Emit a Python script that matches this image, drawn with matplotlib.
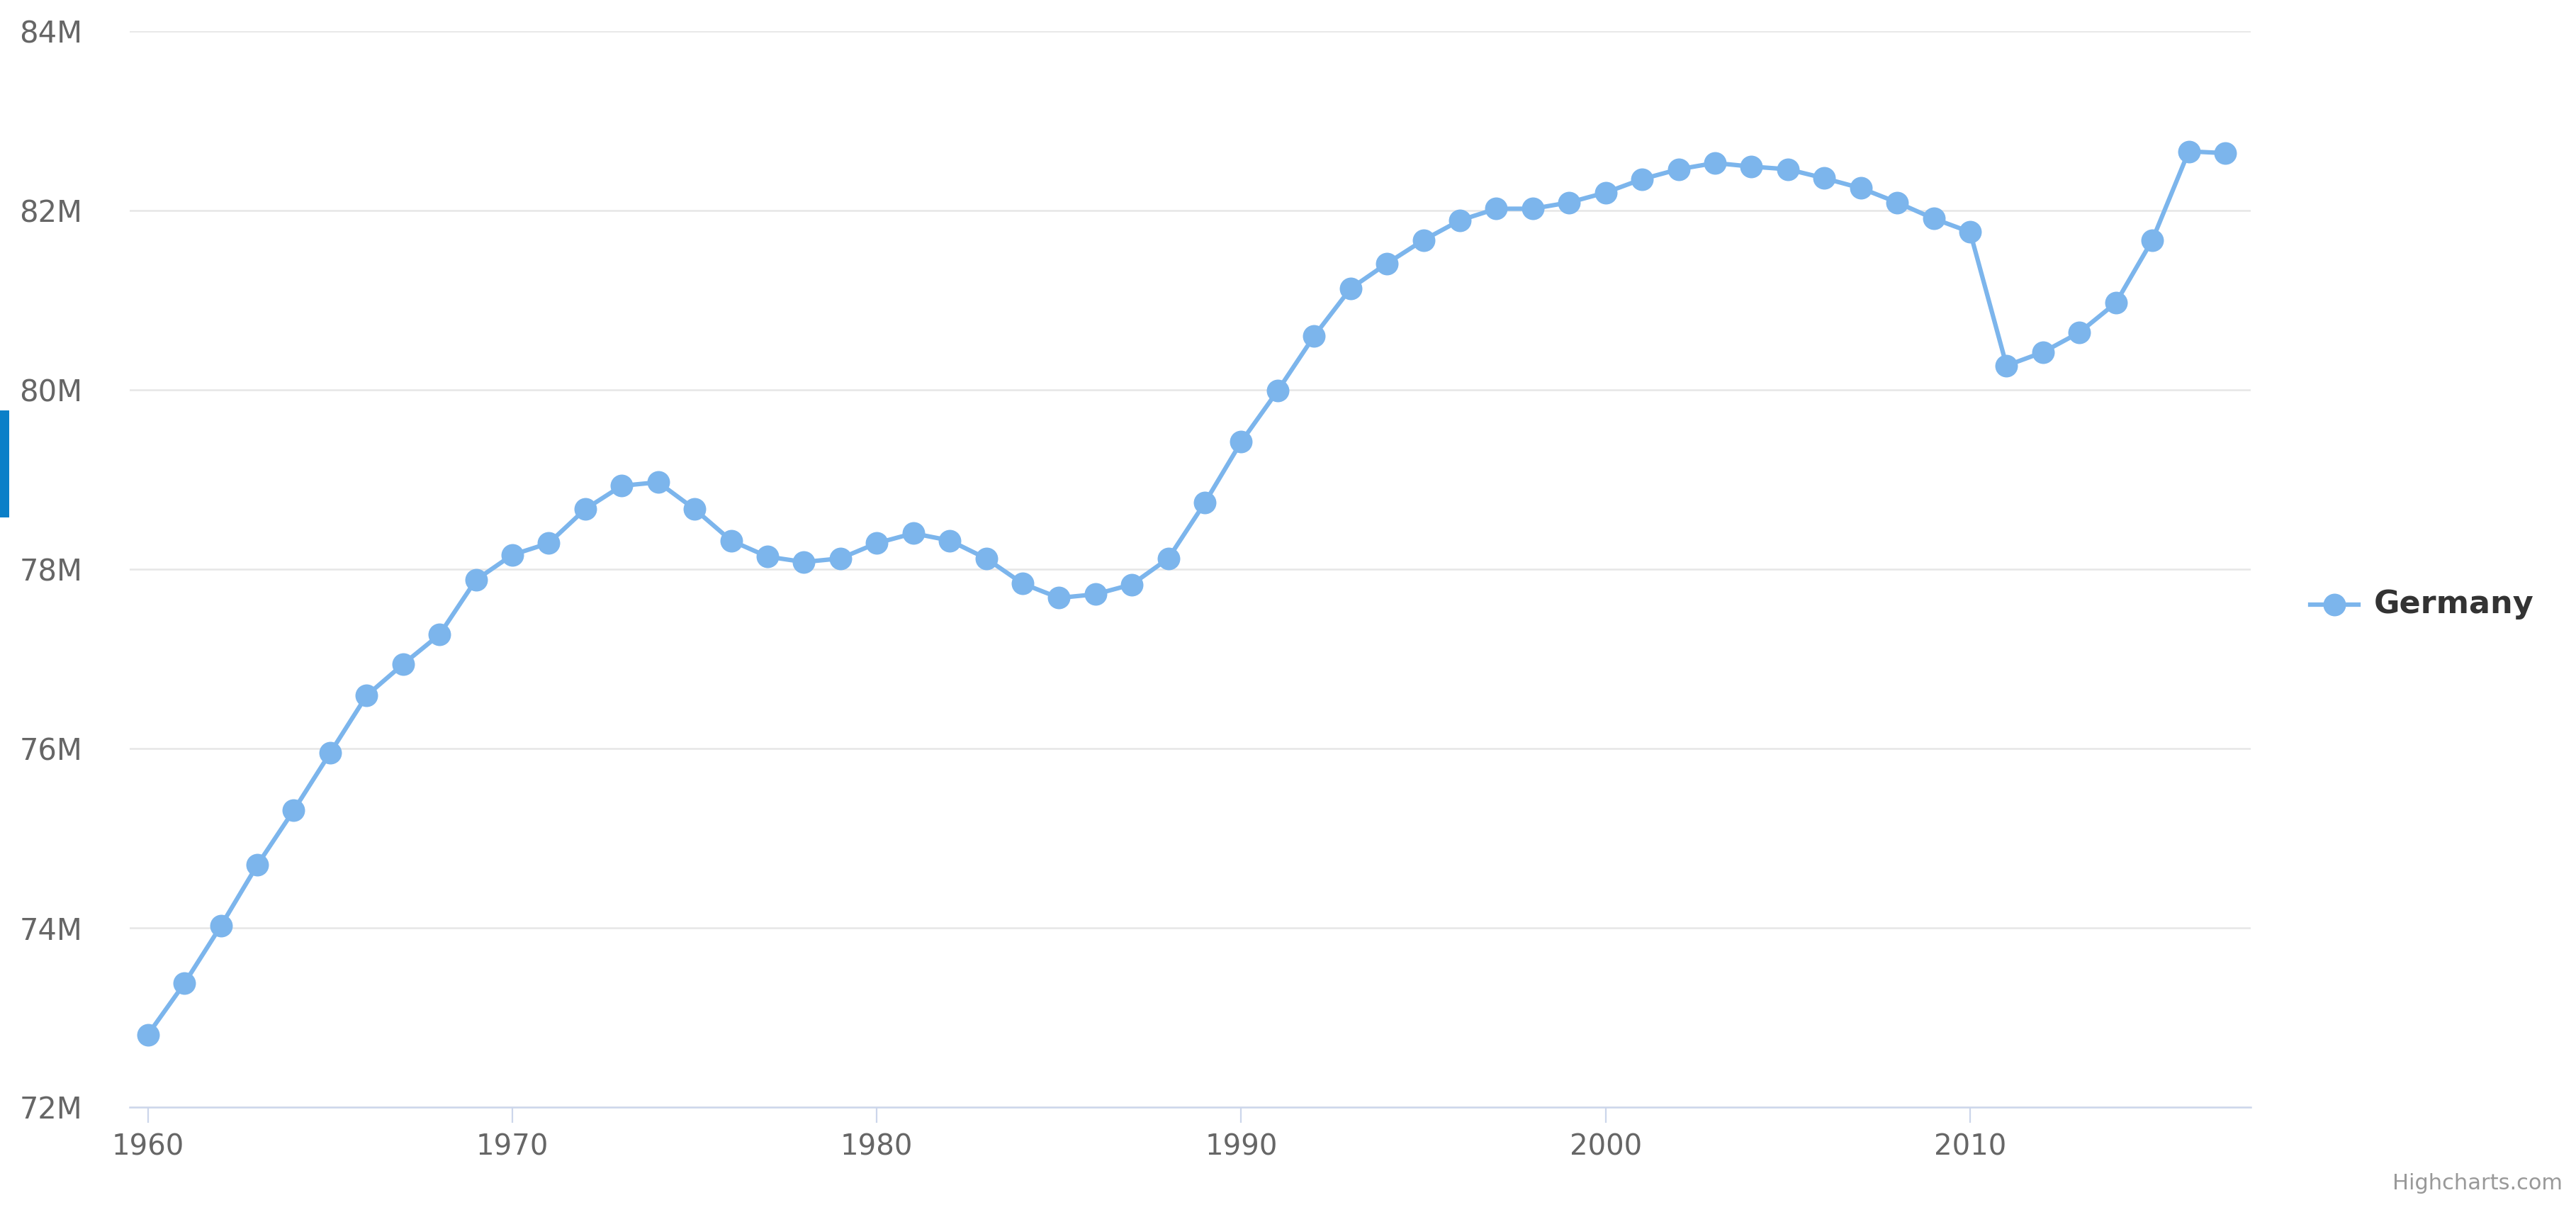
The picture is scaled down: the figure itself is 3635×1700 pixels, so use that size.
import matplotlib
matplotlib.use("Agg")
import matplotlib.pyplot as plt
from matplotlib.ticker import FuncFormatter, MultipleLocator
from matplotlib.patches import Rectangle
from matplotlib.lines import Line2D

# Germany population, millions
years = list(range(1960, 2018))
population = [
    72.81, 73.38, 74.02, 74.70, 75.31, 75.95, 76.59, 76.94, 77.27, 77.88,
    78.16, 78.29, 78.67, 78.93, 78.97, 78.67, 78.32, 78.14, 78.08, 78.12,
    78.29, 78.40, 78.32, 78.12, 77.84, 77.68, 77.72, 77.83, 78.12, 78.74,
    79.42, 79.99, 80.60, 81.13, 81.41, 81.67, 81.89, 82.02, 82.02, 82.09,
    82.20, 82.35, 82.46, 82.53, 82.49, 82.46, 82.36, 82.25, 82.09, 81.91,
    81.76, 80.27, 80.42, 80.64, 80.97, 81.67, 82.66, 82.64,
]
series_name = "Germany"
x_ticks = [1960, 1970, 1980, 1990, 2000, 2010]

blue = "#7cb5ec"
lw, ms = 4.5, 23
W, H = 3635, 1700
fig = plt.figure(figsize=(W / 100, H / 100), dpi=100)
ax = fig.add_axes([183 / W, 138 / H, (3176 - 183) / W, (1656 - 138) / H])

ax.plot(years, population, color=blue, lw=lw, marker="o", ms=ms,
        markeredgewidth=0, zorder=3, clip_on=False)

ax.set_xlim(1959.5, 2017.7)
ax.set_ylim(72, 84)
ax.yaxis.set_major_locator(MultipleLocator(2))
ax.yaxis.set_major_formatter(FuncFormatter(lambda v, p: f"{v:.0f}M"))
ax.set_xticks(x_ticks)

ax.grid(axis="y", color="#e6e6e6", lw=1.8)
ax.set_axisbelow(True)
for s in ["top", "right", "left"]:
    ax.spines[s].set_visible(False)
ax.spines["bottom"].set_color("#ccd6eb")
ax.spines["bottom"].set_linewidth(1.8)

ax.tick_params(axis="y", length=0, pad=48, labelsize=30, labelcolor="#666666")
ax.tick_params(axis="x", length=16, width=1.6, color="#ccd6eb", pad=10,
               labelsize=29, labelcolor="#666666")

# legend on the right
ly = 1 - 853 / H
fig.add_artist(Line2D([3260 / W, 3328 / W], [ly, ly], color=blue,
                      lw=lw, transform=fig.transFigure))
fig.add_artist(Line2D([3294 / W], [ly], color=blue, marker="o",
                      ms=ms, markeredgewidth=0, transform=fig.transFigure))
fig.text(3350 / W, ly, series_name, fontsize=32, fontweight="bold",
         color="#333333", va="center", ha="left")

# credits
fig.text(3616 / W, 1 - 1669 / H, "Highcharts.com", fontsize=22,
         color="#999999", ha="right", va="center")

# blue marker bar at the left edge
fig.add_artist(Rectangle((0, 1 - 730 / H), 13 / W, 151 / H,
                         transform=fig.transFigure, color="#0a7fc8", lw=0))

fig.savefig("out.png", dpi=100, facecolor="white")
